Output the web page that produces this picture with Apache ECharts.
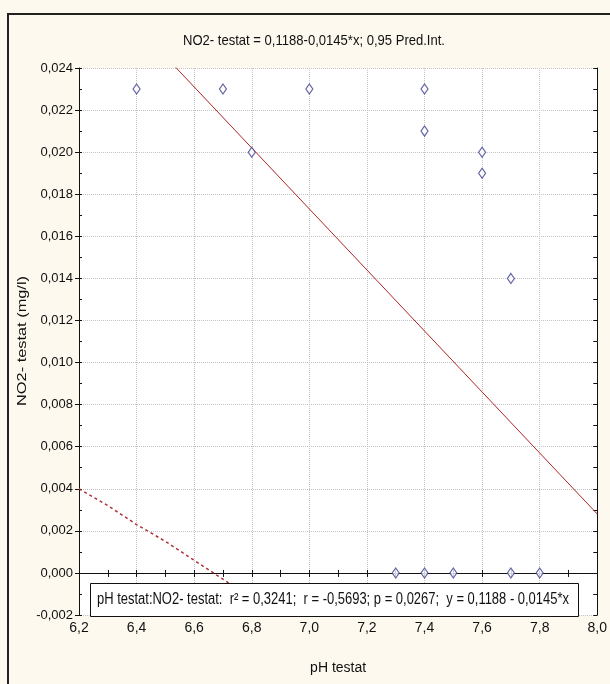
<!DOCTYPE html>
<html>
<head>
<meta charset="utf-8">
<title>NO2- testat vs pH testat</title>
<script src="https://cdn.jsdelivr.net/npm/echarts@6/dist/echarts.min.js"></script>
<style>
  html, body { margin: 0; padding: 0; background: #fdf9ee; }
  #chart { width: 610px; height: 684px; }
</style>
</head>
<body>
<div id="chart"></div>
<script>
// observed points (pH, NO2 mg/l)
var phValues  = [6.4, 6.7, 6.8, 7.0, 7.4, 7.4, 7.6, 7.6, 7.7, 7.3, 7.4, 7.5, 7.7, 7.8];
var no2Values = [0.023, 0.023, 0.020, 0.023, 0.023, 0.021, 0.020, 0.019, 0.014, 0.000, 0.000, 0.000, 0.000, 0.000];

// regression line end points
var fitX = [6.2, 8.0];
var fitY = [0.0289, 0.0028];

// lower 0.95 prediction band
var bandX = [6.2, 6.3, 6.4, 6.5, 6.6, 6.7, 6.8];
var bandY = [0.0040, 0.0032, 0.0023, 0.0015, 0.0006, -0.0003, -0.0012];

var xTicks = [6.2, 6.4, 6.6, 6.8, 7.0, 7.2, 7.4, 7.6, 7.8, 8.0];
var yTicks = [-0.002, 0, 0.002, 0.004, 0.006, 0.008, 0.010, 0.012, 0.014, 0.016, 0.018, 0.020, 0.022, 0.024];

var titleText = 'NO2- testat = 0,1188-0,0145*x; 0,95 Pred.Int.';
var statsText = 'pH testat:NO2- testat:  r\u00b2 = 0,3241;  r = -0,5693; p = 0,0267;  y = 0,1188 - 0,0145*x';
var yName = 'NO2- testat (mg/l)';

function zip(a, b) {
    return a.map(function (v, i) { return [v, b[i]]; });
}

var sans = '"Liberation Sans", Arial, sans-serif';

// squeeze a text to a given width (the original uses a narrow font)
var measureCtx = document.createElement('canvas').getContext('2d');
function fitScale(text, size, width) {
    measureCtx.font = size + 'px "Liberation Sans"';
    return width / measureCtx.measureText(text).width;
}

var chart = echarts.init(document.getElementById('chart'));

var baseX = {
    type: 'value',
    min: xTicks[0],
    max: xTicks[xTicks.length - 1],
    interval: 0.2
};
var baseY = {
    type: 'value',
    min: yTicks[0],
    max: yTicks[yTicks.length - 1],
    interval: 0.002
};

chart.setOption({
    backgroundColor: '#fdf9ee',
    animation: false,
    grid: {
        left: 79,
        right: 12,
        top: 68,
        bottom: 69,
        show: true,
        backgroundColor: '#ffffff',
        borderWidth: 0
    },
    xAxis: [
        Object.assign({}, baseX, {
            position: 'bottom',
            name: 'pH testat',
            nameLocation: 'middle',
            nameGap: 46,
            nameTextStyle: { fontFamily: sans, fontSize: 14, color: '#111' },
            axisLine: { lineStyle: { color: '#111', width: 1 } },
            axisTick: { length: 4, lineStyle: { color: '#111' } },
            axisLabel: {
                margin: 6,
                fontFamily: sans, fontSize: 14, color: '#111',
                formatter: function (v) { return v.toFixed(1).replace('.', ','); }
            },
            splitLine: { show: true, lineStyle: { color: '#c4c4c4', type: 'dotted', width: 1 } }
        }),
        Object.assign({}, baseX, {
            position: 'top',
            interval: 0.1,
            axisLine: { lineStyle: { color: '#111', width: 1 } },
            axisTick: { inside: true, length: 4, lineStyle: { color: '#111' } },
            axisLabel: { show: false },
            splitLine: { show: false }
        }),
        Object.assign({}, baseX, {
            position: 'bottom',
            interval: 0.1,
            axisLine: { show: false },
            axisTick: { inside: true, length: 3, lineStyle: { color: '#111' } },
            axisLabel: { show: false },
            splitLine: { show: false }
        })
    ],
    yAxis: [
        Object.assign({}, baseY, {
            position: 'left',
            axisLine: { lineStyle: { color: '#111', width: 1 } },
            axisTick: { length: 4, lineStyle: { color: '#111' } },
            axisLabel: {
                margin: 6,
                fontFamily: sans, fontSize: 13, color: '#111',
                formatter: function (v) { return v.toFixed(3).replace('.', ','); }
            },
            splitLine: { show: true, lineStyle: { color: '#c4c4c4', type: 'dotted', width: 1 } }
        }),
        Object.assign({}, baseY, {
            position: 'right',
            interval: 0.001,
            axisLine: { lineStyle: { color: '#111', width: 1 } },
            axisTick: { inside: true, length: 4, lineStyle: { color: '#111' } },
            axisLabel: { show: false },
            splitLine: { show: false }
        }),
        Object.assign({}, baseY, {
            position: 'left',
            interval: 0.001,
            axisLine: { show: false },
            axisTick: { inside: true, length: 3, lineStyle: { color: '#111' } },
            axisLabel: { show: false },
            splitLine: { show: false }
        })
    ],
    series: [
        {
            name: 'band',
            type: 'line',
            data: zip(bandX, bandY),
            showSymbol: false,
            clip: true,
            lineStyle: { color: '#b0303a', width: 1.5, type: [3, 3] },
            z: 3
        },
        {
            name: 'fit',
            type: 'line',
            data: zip(fitX, fitY),
            showSymbol: false,
            clip: true,
            lineStyle: { color: '#b02424', width: 1 },
            z: 3
        },
        {
            name: 'points',
            type: 'scatter',
            data: zip(phValues, no2Values),
            symbol: 'diamond',
            symbolSize: [7, 10],
            itemStyle: { color: '#ffffff', borderColor: '#3c3f8f', borderWidth: 1.2 },
            z: 4
        }
    ],
    graphic: [
        {
            type: 'text',
            x: 314,
            y: 41,
            scaleX: fitScale(titleText, 15, 262),
            style: {
                text: titleText, fontFamily: sans, fontSize: 15, fill: '#111',
                align: 'center', verticalAlign: 'middle'
            },
            z: 101
        },
        {
            type: 'text',
            x: 22,
            y: 341,
            rotation: Math.PI / 2,
            scaleX: fitScale(yName, 13, 130),
            style: {
                text: yName, fontFamily: sans, fontSize: 13, fill: '#111',
                align: 'center', verticalAlign: 'middle'
            },
            z: 101
        },
        {
            type: 'rect',
            left: 7,
            top: 13,
            shape: { width: 640, height: 720 },
            style: { fill: 'transparent', stroke: '#222', lineWidth: 2 },
            silent: true,
            z: 100
        },
        {
            type: 'rect',
            left: 90,
            top: 583,
            shape: { width: 488, height: 33 },
            style: { fill: '#ffffff', stroke: '#111', lineWidth: 1 },
            z: 100
        },
        {
            type: 'text',
            x: 97,
            y: 600,
            scaleX: fitScale(statsText, 16, 472),
            style: {
                text: statsText, fontFamily: sans, fontSize: 16, fill: '#111',
                align: 'left', verticalAlign: 'middle'
            },
            z: 101
        }
    ]
});
</script>
</body>
</html>
